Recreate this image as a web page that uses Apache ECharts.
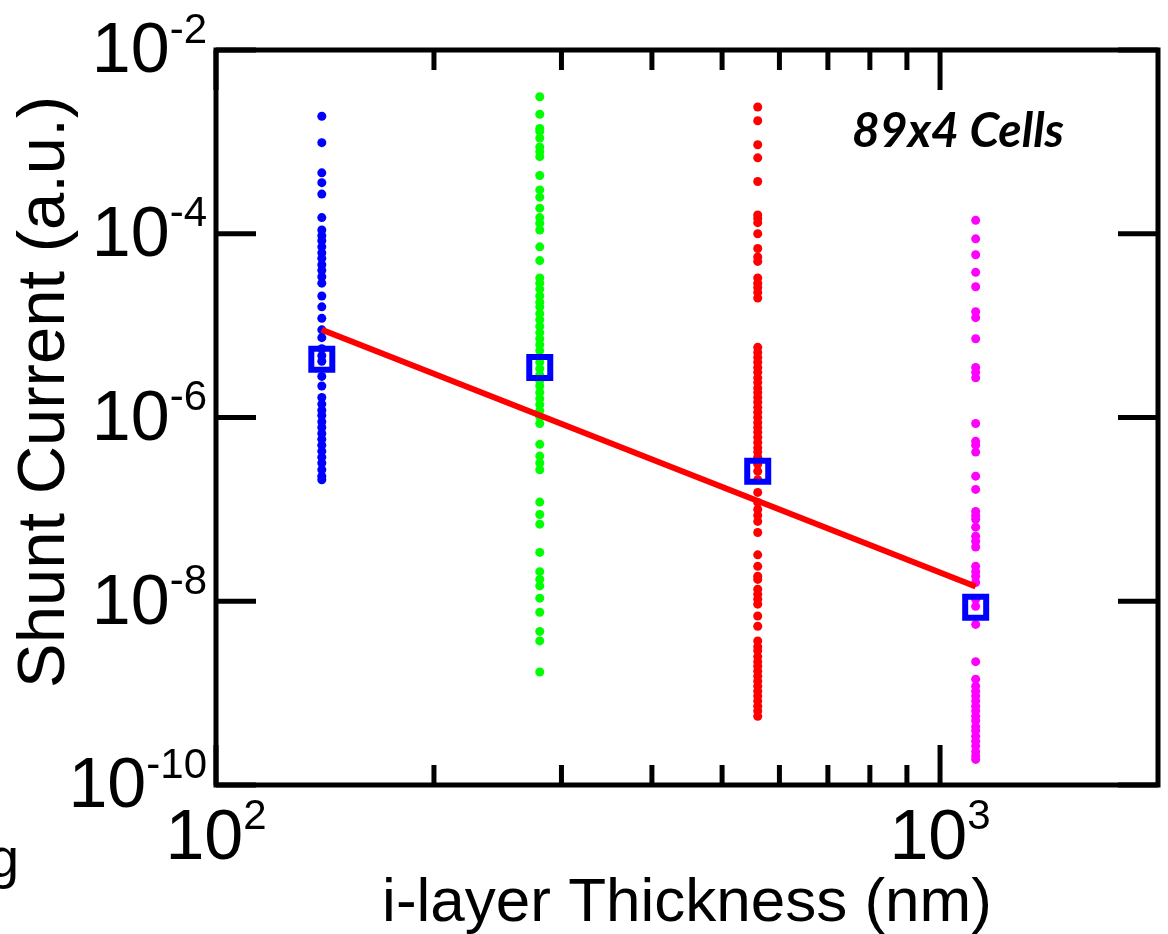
<!DOCTYPE html>
<html><head><meta charset="utf-8">
<script src="https://cdn.jsdelivr.net/npm/echarts@6/dist/echarts.min.js"></script>
<style>html,body{margin:0;padding:0;background:#fff}#c{width:1168px;height:934px}</style>
</head><body><div id="c"></div>
<script>
// ---- data ----
const thickness = [140, 280, 560, 1120]; // nm
const blueCurrents = [1.9e-3, 9.8e-4, 4.6e-4, 3.6e-4, 2.7e-4, 1.5e-4, 1.1e-4, 9.5e-5, 8.4e-5, 7.2e-5, 6.2e-5, 5.4e-5, 4.6e-5, 4.0e-5, 3.4e-5, 2.9e-5, 2.1e-5, 1.6e-5, 1.2e-5, 9.0e-6, 7.4e-6, 5.6e-6, 4.7e-6, 4.1e-6, 2.8e-6, 2.2e-6, 1.65e-6, 1.4e-6, 1.2e-6, 1.05e-6, 9.0e-7, 7.8e-7, 6.7e-7, 5.8e-7, 5.0e-7, 4.3e-7, 3.7e-7, 3.2e-7, 2.7e-7, 2.3e-7, 2.1e-7];
const greenCurrents = [3.1e-3, 2.0e-3, 1.4e-3, 1.3e-3, 1.1e-3, 8.8e-4, 7.8e-4, 6.9e-4, 4.3e-4, 3.0e-4, 2.5e-4, 1.9e-4, 1.5e-4, 1.3e-4, 1.1e-4, 7.2e-5, 5.1e-5, 3.3e-5, 2.9e-5, 2.5e-5, 2.1e-5, 1.8e-5, 1.6e-5, 1.35e-5, 1.16e-5, 9.8e-6, 8.4e-6, 7.2e-6, 6.2e-6, 5.35e-6, 4.6e-6, 4.0e-6, 3.4e-6, 2.9e-6, 2.5e-6, 2.2e-6, 1.87e-6, 1.6e-6, 1.38e-6, 1.19e-6, 1.02e-6, 8.6e-7, 5.1e-7, 3.8e-7, 3.2e-7, 2.7e-7, 1.2e-7, 8.8e-8, 6.9e-8, 3.4e-8, 2.1e-8, 1.73e-8, 1.47e-8, 1.08e-8, 7.6e-9, 4.7e-9, 3.7e-9, 1.7e-9];
const redCurrents = [2.4e-3, 1.7e-3, 9.3e-4, 6.7e-4, 3.7e-4, 1.6e-4, 1.47e-4, 1.32e-4, 1.0e-4, 6.9e-5, 5.6e-5, 5.0e-5, 3.3e-5, 2.9e-5, 2.6e-5, 2.3e-5, 2.0e-5, 5.8e-6, 5.1e-6, 4.5e-6, 4.0e-6, 3.5e-6, 3.1e-6, 2.7e-6, 2.4e-6, 2.1e-6, 1.87e-6, 1.65e-6, 1.47e-6, 1.29e-6, 1.14e-6, 1.0e-6, 8.8e-7, 7.8e-7, 6.9e-7, 6.1e-7, 5.35e-7, 4.7e-7, 4.2e-7, 3.7e-7, 3.1e-7, 2.6e-7, 2.1e-7, 1.53e-7, 1.19e-7, 1.0e-7, 8.6e-8, 7.4e-8, 5.6e-8, 3.2e-8, 2.4e-8, 1.87e-8, 1.73e-8, 1.35e-8, 1.19e-8, 1.05e-8, 9.3e-9, 6.9e-9, 5.35e-9, 3.7e-9, 3.2e-9, 2.9e-9, 2.5e-9, 2.2e-9, 1.96e-9, 1.73e-9, 1.53e-9, 1.35e-9, 1.19e-9, 1.05e-9, 9.3e-10, 8.2e-10, 7.2e-10, 6.4e-10, 5.6e-10];
const magentaCurrents = [1.4e-4, 8.8e-5, 5.9e-5, 3.8e-5, 2.65e-5, 1.42e-5, 1.22e-5, 7.2e-6, 3.5e-6, 3.1e-6, 2.7e-6, 8.6e-7, 5.5e-7, 5.0e-7, 4.2e-7, 2.3e-7, 1.65e-7, 9.5e-8, 8.6e-8, 7.8e-8, 6.4e-8, 5.1e-8, 4.5e-8, 3.9e-8, 2.4e-8, 2.1e-8, 1.87e-8, 1.6e-8, 1.05e-8, 8.8e-9, 5.6e-9, 2.2e-9, 1.42e-9, 1.19e-9, 1.05e-9, 9.3e-10, 8.2e-10, 7.2e-10, 6.4e-10, 5.6e-10, 5.0e-10, 4.3e-10, 3.9e-10, 3.4e-10, 3.0e-10, 2.65e-10, 2.3e-10, 2.07e-10, 1.9e-10];
const avgCurrents = [4.3e-6, 3.5e-6, 2.6e-7, 8.6e-9];
const fitX = [140, 1120];
const fitY = [9.0e-6, 1.45e-8];
const xMin = 100, xMax = 2000, yMin = 1e-10, yMax = 1e-2;
const xMajorTicks = [100, 1000];
const xMinorTicks = [200, 300, 400, 500, 600, 700, 800, 900];
const yMajorTicks = [1e-10, 1e-8, 1e-6, 1e-4, 1e-2];
const xTickLabels = ['2', '3'];                 // 10^2, 10^3
const yTickLabels = ['-10', '-8', '-6', '-4', '-2'];
const xTitle = 'i-layer Thickness (nm)';
const yTitle = 'Shunt Current (a.u.)';
const annotation = '89x4 Cells';

// ---- chart ----
const FONT = '"Liberation Sans", Arial, sans-serif';
const BASE_FONT = '70px ' + FONT;
const SUP_FONT = '42px ' + FONT;
const measureCtx = document.createElement('canvas').getContext('2d');
function textWidth(t, font) { measureCtx.font = font; return measureCtx.measureText(t).width; }

const chart = echarts.init(document.getElementById('c'), null, {renderer: 'canvas'});

function colPoints(i, arr) { return arr.map(v => [thickness[i], v]); }

const dotColors = ['#0000ff', '#00ff00', '#ff0000', '#ff00ff'];
const allCols = [blueCurrents, greenCurrents, redCurrents, magentaCurrents];

const series = allCols.map((arr, i) => ({
  type: 'scatter', data: colPoints(i, arr), symbol: 'circle', symbolSize: 9,
  itemStyle: {color: dotColors[i], opacity: 1}, z: 2, silent: true
}));

// x ticks (bottom + top)
series.push({
  type: 'custom', coordinateSystem: 'cartesian2d', clip: false, silent: true, z: 5,
  data: xMajorTicks.concat(xMinorTicks).map(v => [v, yMin]),
  renderItem: function (params, api) {
    const v = api.value(0);
    const len = xMajorTicks.indexOf(v) >= 0 ? 40 : 20;
    const b = api.coord([v, yMin]);
    const t = api.coord([v, yMax]);
    return {type: 'group', children: [
      {type: 'line', shape: {x1: b[0], y1: b[1], x2: b[0], y2: b[1] - len}, style: {stroke: '#000', lineWidth: 5}},
      {type: 'line', shape: {x1: t[0], y1: t[1], x2: t[0], y2: t[1] + len}, style: {stroke: '#000', lineWidth: 5}}
    ]};
  }
});
// y ticks (left + right)
series.push({
  type: 'custom', coordinateSystem: 'cartesian2d', clip: false, silent: true, z: 5,
  data: yMajorTicks.map(v => [xMin, v]),
  renderItem: function (params, api) {
    const v = api.value(1);
    const l = api.coord([xMin, v]);
    const r = api.coord([xMax, v]);
    return {type: 'group', children: [
      {type: 'line', shape: {x1: l[0], y1: l[1], x2: l[0] + 40, y2: l[1]}, style: {stroke: '#000', lineWidth: 5}},
      {type: 'line', shape: {x1: r[0], y1: r[1], x2: r[0] - 40, y2: r[1]}, style: {stroke: '#000', lineWidth: 5}}
    ]};
  }
});
// y tick labels 10^n
series.push({
  type: 'custom', coordinateSystem: 'cartesian2d', clip: false, silent: true, z: 5,
  data: yMajorTicks.map(v => [xMin, v]),
  renderItem: function (params, api) {
    const p = api.coord([xMin, api.value(1)]);
    const sup = yTickLabels[params.dataIndex];
    const right = p[0] - 9;
    const ws = textWidth(sup, SUP_FONT);
    return {type: 'group', children: [
      {type: 'text', x: right - ws, y: p[1] + 3, style: {text: '10', font: BASE_FONT, fill: '#000', textAlign: 'right', textVerticalAlign: 'middle'}},
      {type: 'text', x: right - ws, y: p[1] - 19, style: {text: sup, font: SUP_FONT, fill: '#000', textAlign: 'left', textVerticalAlign: 'middle'}}
    ]};
  }
});
// x tick labels 10^n
series.push({
  type: 'custom', coordinateSystem: 'cartesian2d', clip: false, silent: true, z: 5,
  data: xMajorTicks.map(v => [v, yMin]),
  renderItem: function (params, api) {
    const p = api.coord([api.value(0), yMin]);
    const sup = xTickLabels[params.dataIndex];
    const wb = textWidth('10', BASE_FONT);
    const ws = textWidth(sup, SUP_FONT);
    const left = p[0] - (wb + ws) / 2;
    return {type: 'group', children: [
      {type: 'text', x: left, y: p[1] + 55, style: {text: '10', font: BASE_FONT, fill: '#000', textAlign: 'left', textVerticalAlign: 'middle'}},
      {type: 'text', x: left + wb, y: p[1] + 32, style: {text: sup, font: SUP_FONT, fill: '#000', textAlign: 'left', textVerticalAlign: 'middle'}}
    ]};
  }
});
series.push({
  type: 'line', data: fitX.map((x, i) => [x, fitY[i]]), symbol: 'none',
  lineStyle: {color: '#ff0000', width: 6}, z: 6, silent: true
});
series.push({
  type: 'scatter', data: thickness.map((x, i) => [x, avgCurrents[i]]), symbol: 'rect', symbolSize: 21,
  itemStyle: {color: 'rgba(0,0,0,0)', borderColor: '#0000ff', borderWidth: 6, opacity: 1}, z: 7, silent: true
});

chart.setOption({
  animation: false,
  backgroundColor: '#fff',
  grid: {left: 216, right: 10, top: 50, bottom: 149, show: true, borderColor: '#000', borderWidth: 5,
         backgroundColor: 'transparent', containLabel: false, outerBoundsMode: 'none'},
  xAxis: {
    type: 'log', logBase: 10, min: xMin, max: xMax,
    axisLine: {show: false}, axisTick: {show: false}, splitLine: {show: false}, minorTick: {show: false},
    axisLabel: {show: false},
    name: xTitle, nameLocation: 'middle', nameGap: 88,
    nameTextStyle: {fontSize: 62, fontFamily: FONT, color: '#000'}
  },
  yAxis: {
    type: 'log', logBase: 10, min: yMin, max: yMax,
    axisLine: {show: false}, axisTick: {show: false}, splitLine: {show: false}, minorTick: {show: false},
    axisLabel: {show: false}
  },
  graphic: [
    {type: 'text', x: 46, y: 392, rotation: Math.PI / 2,
     style: {text: yTitle, font: '67px ' + FONT, fill: '#000', textAlign: 'center', textVerticalAlign: 'middle'}},
    {type: 'text', x: 852, y: 132,
     style: {text: annotation, font: 'italic bold 48px Lato, "Open Sans", sans-serif', fill: '#000', textAlign: 'left', textVerticalAlign: 'middle'}},
    {type: 'text', x: -12, y: 890,
     style: {text: 'g', font: '56px ' + FONT, fill: '#000', textAlign: 'left', textVerticalAlign: 'bottom'}}
  ],
  series: series
});
</script>
</body></html>
